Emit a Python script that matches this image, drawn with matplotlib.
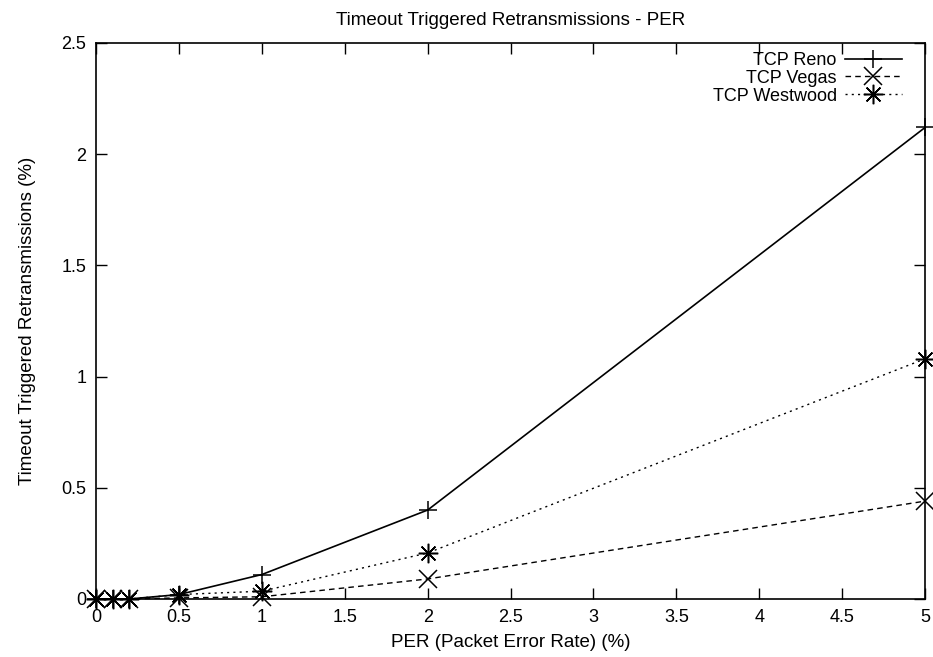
import matplotlib
matplotlib.use('Agg')
import matplotlib.pyplot as plt
from matplotlib.ticker import FormatStrFormatter, MultipleLocator

plt.rcParams['font.family'] = ['Liberation Sans', 'DejaVu Sans']

per = [0, 0.1, 0.2, 0.5, 1, 2, 5]
reno = [0, 0, 0, 0.02, 0.11, 0.40, 2.12]
vegas = [0, 0, 0, 0.005, 0.01, 0.09, 0.44]
westwood = [0, 0, 0, 0.02, 0.035, 0.207, 1.08]

fig = plt.figure(figsize=(9.33, 6.57), dpi=100)
ax = fig.add_axes([0.103, 0.0883, 0.8885, 0.8463])

ax.plot(per, reno, color='black', lw=1.2, marker='+', ms=13, mew=1.1,
        label='TCP Reno', clip_on=False)
ax.plot(per, vegas, color='black', lw=1.0, ls=(0, (4, 3)), marker='x', ms=13, mew=1.1,
        label='TCP Vegas', clip_on=False)
ax.plot(per, westwood, color='black', lw=1.0, ls=(0, (1.5, 3)), marker=(8, 2, 0), ms=14, mew=1.1,
        label='TCP Westwood', clip_on=False)

ax.set_xlim(0, 5)
ax.set_ylim(0, 2.5)
ax.xaxis.set_major_locator(MultipleLocator(0.5))
ax.yaxis.set_major_locator(MultipleLocator(0.5))
ax.xaxis.set_major_formatter(FormatStrFormatter('%g'))
ax.yaxis.set_major_formatter(FormatStrFormatter('%g'))
ax.tick_params(direction='in', length=8, width=1, top=True, right=True, labelsize=13, pad=7)
for s in ax.spines.values():
    s.set_linewidth(1.2)

ax.set_title('Timeout Triggered Retransmissions - PER', fontsize=13.5, pad=13)
ax.set_xlabel('PER (Packet Error Rate) (%)', fontsize=13.5, labelpad=6)
ax.set_ylabel('Timeout Triggered Retransmissions (%)', fontsize=13.5, labelpad=18)

leg = ax.legend(loc='upper right', frameon=False, markerfirst=False, fontsize=13,
                handlelength=3.15, handletextpad=0.45, labelspacing=0.05,
                borderaxespad=0, borderpad=0, bbox_to_anchor=(0.972, 0.984))
for t in leg.get_texts():
    t.set_ha('right')

fig.savefig('out.png', dpi=100)
